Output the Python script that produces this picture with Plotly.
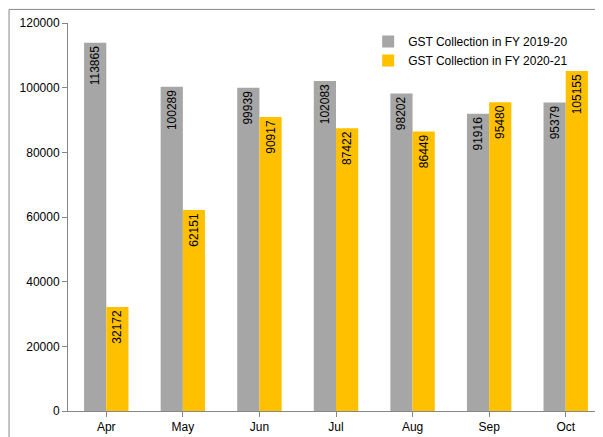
import plotly.graph_objs as go

months = ["Apr", "May", "Jun", "Jul", "Aug", "Sep", "Oct"]
fy_2019_20 = [113865, 100289, 99939, 102083, 98202, 91916, 95379]
fy_2020_21 = [32172, 62151, 90917, 87422, 86449, 95480, 105155]

fig = go.Figure()
fig.add_trace(go.Bar(x=months, y=fy_2019_20, name="GST Collection in FY 2019-20",
                     marker=dict(color="#A6A6A6", line=dict(width=0)),
                     text=fy_2019_20, textposition="inside",
                     insidetextanchor="end", textangle=-90,
                     textfont=dict(color="black", size=12)))
fig.add_trace(go.Bar(x=months, y=fy_2020_21, name="GST Collection in FY 2020-21",
                     marker=dict(color="#FFC000", line=dict(width=0)),
                     text=fy_2020_21, textposition="inside",
                     insidetextanchor="end", textangle=-90,
                     textfont=dict(color="black", size=12)))

fig.update_layout(
    width=603, height=437,
    margin=dict(l=60, r=7, t=15, b=34),
    paper_bgcolor="white", plot_bgcolor="white",
    font=dict(family="Liberation Sans, Arial", size=12, color="black"),
    barmode="group", bargap=0.42, bargroupgap=0,
    uniformtext=dict(minsize=12, mode="show"),
    legend=dict(x=0.56, y=0.99, xanchor="left", yanchor="top",
                bgcolor="rgba(0,0,0,0)", font=dict(size=12)),
    shapes=[dict(type="rect", xref="paper", yref="paper", x0=-0.11, y0=-0.09,
                 x1=1.01, y1=1.035, line=dict(color="#888888", width=1))],
)
fig.update_xaxes(showline=True, linecolor="#868686", ticks="outside",
                 tickcolor="#868686", showgrid=False)
fig.update_yaxes(range=[0, 120000], dtick=20000, tickformat="d", showline=True,
                 linecolor="#868686", ticks="outside", tickcolor="#868686",
                 showgrid=False, zeroline=False)

fig.write_html("out.html")
